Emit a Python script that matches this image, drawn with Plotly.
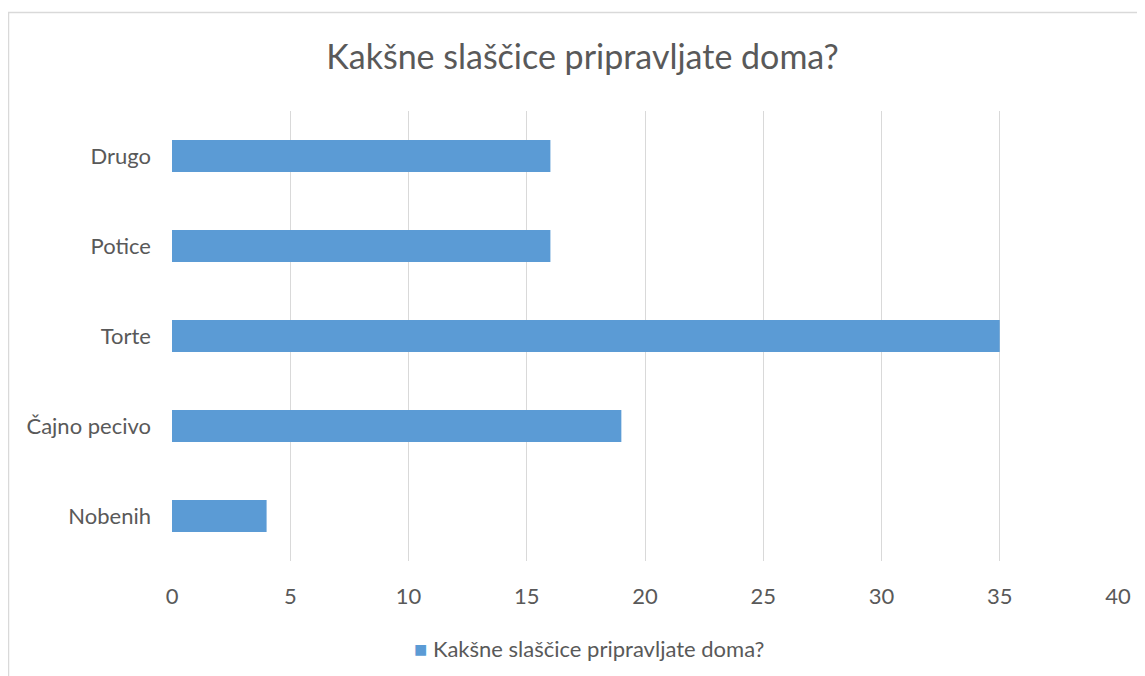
import plotly.graph_objects as go

categories = ["Nobenih", "Čajno pecivo", "Torte", "Potice", "Drugo"]
values = [4, 19, 35, 16, 16]
series_name = "Kakšne slaščice pripravljate doma?"
title_text = "Kakšne slaščice pripravljate doma?"
x_ticks = [0, 5, 10, 15, 20, 25, 30, 35, 40]

# page has an 8px body margin; work in screen coordinates
OFF = 8
W, H = 1145 - OFF, 676 - OFF
L, R, T, B = 172 - OFF, 27, 111 - OFF, 115
pw = W - L - R
ph = H - T - B

def px_x(px):
    return (px - OFF - L) / pw

def px_y(py):
    return (H - B - (py - OFF)) / ph

FONT = "Lato"
COLOR = "#595959"
BAR = "#5B9BD5"

fig = go.Figure()
fig.add_trace(go.Bar(
    y=categories, x=values, orientation="h", name=series_name,
    marker=dict(color=BAR, line=dict(width=0)),
    showlegend=False,
))

fig.update_layout(
    width=W, height=H,
    margin=dict(l=L, r=R, t=T, b=B),
    paper_bgcolor="white", plot_bgcolor="white",
    bargap=0.644,
    font=dict(family=FONT, color=COLOR, size=22),
    title=dict(text=title_text, x=px_x(582.5), xref="paper", xanchor="center",
               y=1 - (57 - OFF) / H, yanchor="middle",
               font=dict(size=34, color=COLOR, family=FONT)),
    xaxis=dict(range=[0, 40], tickvals=x_ticks, showgrid=True, gridcolor="#D9D9D9",
               gridwidth=1, zeroline=False, showline=False, ticks="",
               ticklabelstandoff=20,
               tickfont=dict(size=22, color=COLOR), fixedrange=True),
    yaxis=dict(showgrid=False, zeroline=False, showline=False, ticks="",
               ticklabelstandoff=20, tickfont=dict(size=22, color=COLOR)),
    annotations=[dict(
        text=f"<span style='color:{BAR}'>■</span> {series_name}",
        xref="paper", yref="paper", x=px_x(588.5), y=px_y(648),
        xanchor="center", yanchor="middle", showarrow=False,
        font=dict(size=22, color=COLOR, family=FONT))],
    shapes=[dict(type="rect", xref="paper", yref="paper",
                 x0=px_x(8.5), x1=px_x(1170), y0=px_y(12.5), y1=px_y(700),
                 line=dict(color="#D9D9D9", width=1.5), layer="below")],
)
fig.update_xaxes(automargin=False)
fig.update_yaxes(automargin=False)

fig.write_html("out.html")
